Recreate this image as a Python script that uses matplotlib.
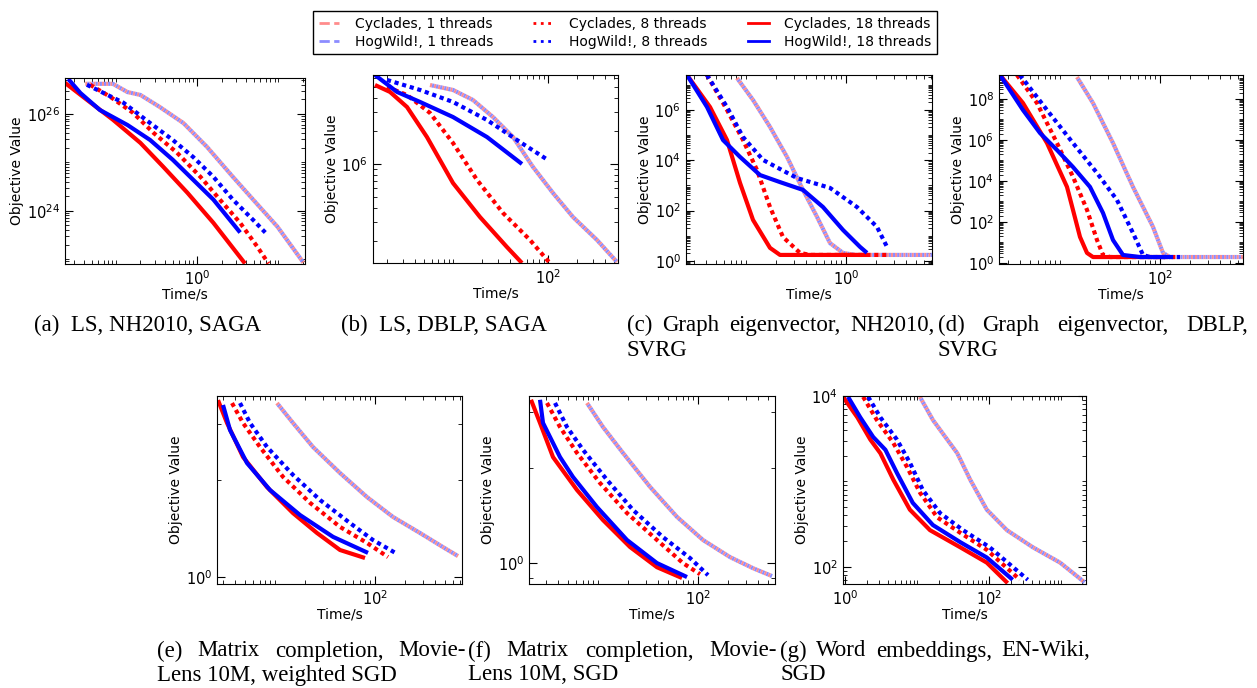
import numpy as np
import matplotlib
matplotlib.use("Agg")
import matplotlib.pyplot as plt
from matplotlib.lines import Line2D
from matplotlib.ticker import FixedLocator, LogLocator, NullFormatter, FuncFormatter

W, H = 1257, 688

# every curve: log10(time / s) and log10(objective value)
# one_* is shared by "Cyclades, 1 threads" and "HogWild!, 1 threads" (they overlap)

# (a) LS, NH2010, SAGA
a_one_lt = [-1.38, -1.04, -0.86, -0.70, -0.46, -0.17, 0.12, 0.44, 0.69, 0.99, 1.31]
a_one_lv = [26.62, 26.62, 26.45, 26.39, 26.14, 25.81, 25.32, 24.70, 24.23, 23.67, 22.93]
a_c8_lt = [-1.32, -1.07, -0.79, -0.54, -0.25, 0.04, 0.28, 0.53, 0.74, 0.88]
a_c8_lv = [26.60, 26.35, 26.02, 25.61, 25.20, 24.70, 24.23, 23.75, 23.26, 22.91]
a_h8_lt = [-1.36, -0.91, -0.58, -0.30, -0.05, 0.20, 0.44, 0.69, 0.84]
a_h8_lv = [26.60, 26.23, 25.81, 25.46, 25.11, 24.70, 24.23, 23.81, 23.55]
a_c18_lt = [-1.63, -1.36, -1.04, -0.70, -0.42, -0.12, 0.20, 0.59]
a_c18_lv = [26.64, 26.29, 25.88, 25.40, 24.91, 24.37, 23.75, 22.91]
a_h18_lt = [-1.59, -1.44, -1.20, -0.86, -0.58, -0.30, -0.05, 0.20, 0.53]
a_h18_lv = [26.72, 26.43, 26.08, 25.77, 25.46, 25.05, 24.64, 24.23, 23.55]

# (b) LS, DBLP, SAGA
b_one_lt = [0.758, 1.0, 1.21, 1.421, 1.632, 1.842, 2.053, 2.263, 2.516, 2.726]
b_one_lv = [6.718, 6.673, 6.582, 6.427, 6.245, 5.973, 5.736, 5.518, 5.309, 5.109]
b_c8_lt = [0.305, 0.516, 0.758, 1.0, 1.253, 1.526, 1.811, 2.01]
b_c8_lv = [6.70, 6.627, 6.464, 6.191, 5.855, 5.555, 5.309, 5.109]
b_h8_lt = [0.305, 0.653, 1.0, 1.358, 1.705, 2.0]
b_h8_lv = [6.764, 6.673, 6.564, 6.40, 6.20, 6.036]
b_c18_lt = [0.179, 0.337, 0.516, 0.726, 1.0, 1.284, 1.568, 1.726]
b_c18_lv = [6.718, 6.655, 6.518, 6.245, 5.827, 5.518, 5.245, 5.10]
b_h18_lt = [0.179, 0.411, 0.653, 1.0, 1.358, 1.726]
b_h18_lv = [6.809, 6.655, 6.564, 6.427, 6.245, 6.0]

# (c) Graph eigenvector, NH2010, SVRG
c_one_lt = [-1.09, -0.93, -0.76, -0.59, -0.43, -0.29, -0.16, -0.03, 0.09, 0.86]
c_one_lv = [7.26, 6.39, 5.32, 4.13, 2.82, 1.75, 0.71, 0.32, 0.24, 0.24]
c_c8_lt = [-1.39, -1.19, -1.03, -0.89, -0.76, -0.63, -0.46, -0.36, 0.44]
c_c8_lv = [7.38, 5.99, 4.80, 3.61, 2.14, 0.95, 0.32, 0.24, 0.24]
c_h8_lt = [-1.39, -1.19, -1.03, -0.83, -0.49, -0.16, 0.11, 0.31, 0.41]
c_h8_lv = [7.38, 6.11, 4.92, 4.01, 3.29, 2.90, 2.14, 1.35, 0.56]
c_c18_lt = [-1.59, -1.36, -1.19, -1.06, -0.93, -0.76, -0.66, 0.21]
c_c18_lv = [7.38, 6.11, 4.80, 3.10, 1.63, 0.52, 0.24, 0.24]
c_h18_lt = [-1.59, -1.39, -1.23, -1.06, -0.86, -0.66, -0.43, -0.23, -0.03, 0.14, 0.21]
c_h18_lv = [7.38, 6.11, 4.80, 4.13, 3.41, 3.13, 2.82, 2.14, 1.23, 0.56, 0.32]

# (d) Graph eigenvector, DBLP, SVRG
d_one_lt = [1.17, 1.33, 1.53, 1.73, 1.93, 2.03, 2.10, 2.83]
d_one_lv = [9.07, 7.80, 5.85, 3.71, 1.76, 0.49, 0.29, 0.29]
d_c8_lt = [0.57, 0.77, 0.97, 1.13, 1.27, 1.37, 1.43, 1.50, 2.15]
d_c8_lv = [9.17, 7.80, 5.85, 4.20, 2.59, 1.12, 0.39, 0.29, 0.29]
d_h8_lt = [0.60, 0.87, 1.13, 1.37, 1.57, 1.73, 1.83, 1.90, 2.20]
d_h8_lv = [9.17, 7.46, 5.85, 4.39, 3.07, 1.46, 0.39, 0.29, 0.29]
d_c18_lt = [0.40, 0.63, 0.87, 1.07, 1.20, 1.27, 1.33, 2.05]
d_c18_lv = [9.17, 7.80, 5.85, 3.71, 1.27, 0.49, 0.29, 0.29]
d_h18_lt = [0.40, 0.63, 0.80, 0.97, 1.13, 1.30, 1.43, 1.53, 1.63, 1.80, 2.10]
d_h18_lv = [9.17, 7.46, 6.34, 5.51, 4.68, 3.71, 2.44, 1.12, 0.39, 0.29, 0.29]

# (e) Matrix completion, MovieLens 10M, weighted SGD
e_one_lt = [1.02, 1.18, 1.38, 1.65, 1.92, 2.18, 2.45, 2.68, 2.83]
e_one_lv = [0.542, 0.480, 0.405, 0.324, 0.249, 0.187, 0.137, 0.093, 0.065]
e_c8_lt = [0.57, 0.68, 0.85, 1.08, 1.35, 1.65, 1.92, 2.13]
e_c8_lv = [0.542, 0.480, 0.405, 0.312, 0.231, 0.156, 0.106, 0.062]
e_h8_lt = [0.65, 0.75, 0.92, 1.18, 1.45, 1.75, 1.98, 2.22]
e_h8_lv = [0.542, 0.480, 0.405, 0.318, 0.240, 0.168, 0.115, 0.072]
e_c18_lt = [0.43, 0.52, 0.68, 0.92, 1.18, 1.42, 1.65, 1.90]
e_c18_lv = [0.551, 0.480, 0.374, 0.280, 0.199, 0.137, 0.084, 0.059]
e_h18_lt = [0.48, 0.55, 0.72, 0.95, 1.25, 1.58, 1.93]
e_h18_lv = [0.536, 0.458, 0.355, 0.271, 0.193, 0.125, 0.075]

# (f) Matrix completion, MovieLens 10M, SGD
f_one_lt = [0.89, 1.05, 1.25, 1.52, 1.79, 2.05, 2.32, 2.55, 2.74]
f_one_lv = [0.506, 0.430, 0.348, 0.241, 0.146, 0.073, 0.019, -0.016, -0.041]
f_c8_lt = [0.49, 0.62, 0.79, 1.02, 1.29, 1.59, 1.85, 2.02]
f_c8_lv = [0.506, 0.430, 0.348, 0.253, 0.158, 0.073, 0.0, -0.035]
f_h8_lt = [0.57, 0.69, 0.85, 1.09, 1.35, 1.65, 1.92, 2.10]
f_h8_lv = [0.506, 0.430, 0.358, 0.263, 0.168, 0.082, 0.016, -0.038]
f_c18_lt = [0.33, 0.42, 0.55, 0.79, 1.05, 1.32, 1.59, 1.84]
f_c18_lv = [0.516, 0.443, 0.335, 0.231, 0.136, 0.051, -0.013, -0.047]
f_h18_lt = [0.42, 0.45, 0.62, 0.75, 0.99, 1.29, 1.59, 1.89]
f_h18_lv = [0.516, 0.443, 0.335, 0.272, 0.177, 0.073, 0.0, -0.044]

# (g) Word embeddings, EN-Wiki, SGD
g_one_lt = [1.04, 1.22, 1.42, 1.56, 1.74, 1.97, 2.25, 2.61, 2.99, 3.33]
g_one_lv = [3.99, 3.72, 3.49, 3.33, 3.02, 2.67, 2.43, 2.23, 2.05, 1.82]
g_c8_lt = [0.25, 0.44, 0.67, 0.86, 1.04, 1.28, 1.60, 1.97, 2.43]
g_c8_lv = [3.99, 3.72, 3.45, 3.17, 2.87, 2.58, 2.40, 2.20, 1.85]
g_h8_lt = [0.32, 0.49, 0.72, 0.90, 1.08, 1.32, 1.64, 2.01, 2.54]
g_h8_lv = [3.99, 3.75, 3.49, 3.22, 2.90, 2.63, 2.43, 2.23, 1.85]
g_c18_lt = [-0.03, 0.17, 0.35, 0.49, 0.67, 0.90, 1.18, 1.60, 1.97, 2.26]
g_c18_lv = [3.99, 3.75, 3.49, 3.33, 3.02, 2.67, 2.43, 2.23, 2.05, 1.81]
g_h18_lt = [0.04, 0.21, 0.39, 0.56, 0.72, 0.94, 1.22, 1.60, 1.97, 2.33]
g_h18_lv = [3.99, 3.75, 3.52, 3.37, 3.10, 2.75, 2.49, 2.29, 2.11, 1.85]

# panel layout: pixel box (left, top, right, bottom), log10 limits, labelled decades
panels = [
    ("a", (65, 78, 305, 264), (-1.63, 1.33), (22.9, 26.74), [0], [24, 26]),
    ("b", (373, 75, 618, 263), (0.158, 2.737), (5.1, 6.809), [2], [6]),
    ("c", (686, 75, 932, 264), (-1.6, 0.86), (-0.12, 7.38), [0], [0, 2, 4, 6]),
    ("d", (999, 75, 1243, 264), (0.39, 2.83), (-0.05, 9.17), [2], [0, 2, 4, 6, 8]),
    ("e", (217, 396, 462, 584), (0.42, 2.87), (-0.022, 0.564), [2], [0]),
    ("f", (529, 396, 775, 584), (0.31, 2.77), (-0.066, 0.528), [2], [0]),
    ("g", (843, 396, 1086, 584), (-0.03, 3.35), (1.80, 4.0), [0, 2], [2, 4]),
]

curves = {
    "a": (a_one_lt, a_one_lv, a_c8_lt, a_c8_lv, a_h8_lt, a_h8_lv, a_c18_lt, a_c18_lv, a_h18_lt, a_h18_lv),
    "b": (b_one_lt, b_one_lv, b_c8_lt, b_c8_lv, b_h8_lt, b_h8_lv, b_c18_lt, b_c18_lv, b_h18_lt, b_h18_lv),
    "c": (c_one_lt, c_one_lv, c_c8_lt, c_c8_lv, c_h8_lt, c_h8_lv, c_c18_lt, c_c18_lv, c_h18_lt, c_h18_lv),
    "d": (d_one_lt, d_one_lv, d_c8_lt, d_c8_lv, d_h8_lt, d_h8_lv, d_c18_lt, d_c18_lv, d_h18_lt, d_h18_lv),
    "e": (e_one_lt, e_one_lv, e_c8_lt, e_c8_lv, e_h8_lt, e_h8_lv, e_c18_lt, e_c18_lv, e_h18_lt, e_h18_lv),
    "f": (f_one_lt, f_one_lv, f_c8_lt, f_c8_lv, f_h8_lt, f_h8_lv, f_c18_lt, f_c18_lv, f_h18_lt, f_h18_lv),
    "g": (g_one_lt, g_one_lv, g_c8_lt, g_c8_lv, g_h8_lt, g_h8_lv, g_c18_lt, g_c18_lv, g_h18_lt, g_h18_lv),
}

RED, BLUE = "#ff0000", "#0000ff"
PINK, LBLUE = "#ff8c8c", "#8c8cff"

fig = plt.figure(figsize=(W / 100, H / 100), dpi=100)


def expfmt(v, pos):
    return r"$10^{%d}$" % int(round(np.log10(v)))


for key, (l, t, r, b), xl, yl, xmaj, ymaj in panels:
    ax = fig.add_axes([l / W, 1 - b / H, (r - l) / W, (b - t) / H])
    one_t, one_v, c8_t, c8_v, h8_t, h8_v, c18_t, c18_v, h18_t, h18_v = curves[key]
    p = lambda arr: 10.0 ** np.array(arr)
    ax.plot(p(one_t), p(one_v), color=PINK, lw=3, ls=(0, (0.5, 0.5)))
    ax.plot(p(one_t), p(one_v), color=LBLUE, lw=3, ls=(0.5, (0.5, 0.5)))
    ax.plot(p(c8_t), p(c8_v), color=RED, lw=3, ls=(0, (1.0, 0.9)))
    ax.plot(p(h8_t), p(h8_v), color=BLUE, lw=3, ls=(0, (1.0, 0.9)))
    ax.plot(p(c18_t), p(c18_v), color=RED, lw=3, solid_capstyle="butt")
    ax.plot(p(h18_t), p(h18_v), color=BLUE, lw=3, solid_capstyle="butt")
    ax.set_xscale("log")
    ax.set_yscale("log")
    ax.set_xlim(10 ** xl[0], 10 ** xl[1])
    ax.set_ylim(10 ** yl[0], 10 ** yl[1])
    for axis, maj in ((ax.xaxis, xmaj), (ax.yaxis, ymaj)):
        axis.set_major_locator(FixedLocator([10.0 ** e for e in maj]))
        axis.set_major_formatter(FuncFormatter(expfmt))
        axis.set_minor_locator(LogLocator(base=10, subs=np.arange(1, 10), numticks=80))
        axis.set_minor_formatter(NullFormatter())
    ax.tick_params(which="both", direction="in", top=True, right=True, labelsize=10.5)
    ax.tick_params(which="major", length=6)
    ax.tick_params(which="minor", length=3)
    ax.set_xlabel("Time/s", fontsize=10, labelpad=0)
    ax.set_ylabel("Objective Value", fontsize=10, labelpad=2)

# legend
handles = [
    Line2D([], [], color=PINK, lw=2, ls="--"),
    Line2D([], [], color=LBLUE, lw=2, ls="--"),
    Line2D([], [], color=RED, lw=2, ls=":"),
    Line2D([], [], color=BLUE, lw=2, ls=":"),
    Line2D([], [], color=RED, lw=2),
    Line2D([], [], color=BLUE, lw=2),
]
labels = ["Cyclades, 1 threads", "HogWild!, 1 threads", "Cyclades, 8 threads",
          "HogWild!, 8 threads", "Cyclades, 18 threads", "HogWild!, 18 threads"]
fig.legend(handles, labels, loc="upper center", bbox_to_anchor=(625 / W, 1 - 4 / H), ncol=3,
           fontsize=10, frameon=True, fancybox=False, edgecolor="black", framealpha=1,
           handlelength=1.5, handletextpad=1.1, columnspacing=2.9, labelspacing=0.3,
           borderpad=0.4)

# sub-captions (justified like the LaTeX source)
renderer = fig.canvas.get_renderer()
CAP = dict(fontsize=16.5, family="Liberation Serif", va="center")


def put_line(words, x0, x1, y):
    texts = [fig.text(0, 1 - y / H, w, **CAP) for w in words]
    widths = [tx.get_window_extent(renderer).width for tx in texts]
    gap = (x1 - x0 - sum(widths)) / max(len(words) - 1, 1)
    x = x0
    for tx, w in zip(texts, widths):
        tx.set_x(x / W)
        x += w + gap


def put_left(text, x0, y):
    fig.text(x0 / W, 1 - y / H, text, ha="left", **CAP)


fig.text(148 / W, 1 - 325 / H, "(a)  LS, NH2010, SAGA", ha="center", **CAP)
fig.text(444 / W, 1 - 325 / H, "(b)  LS, DBLP, SAGA", ha="center", **CAP)
put_line(["(c)", "Graph", "eigenvector,", "NH2010,"], 627, 935, 325)
put_left("SVRG", 627, 350)
put_line(["(d)", "Graph", "eigenvector,", "DBLP,"], 938, 1248, 325)
put_left("SVRG", 938, 350)
put_line(["(e)", "Matrix", "completion,", "Movie-"], 157, 466, 651)
put_left("Lens 10M, weighted SGD", 157, 675)
put_line(["(f)", "Matrix", "completion,", "Movie-"], 468, 777, 651)
put_left("Lens 10M, SGD", 468, 675)
put_line(["(g)", "Word", "embeddings,", "EN-Wiki,"], 780, 1090, 651)
put_left("SGD", 780, 675)

fig.savefig("out.png", dpi=100)
